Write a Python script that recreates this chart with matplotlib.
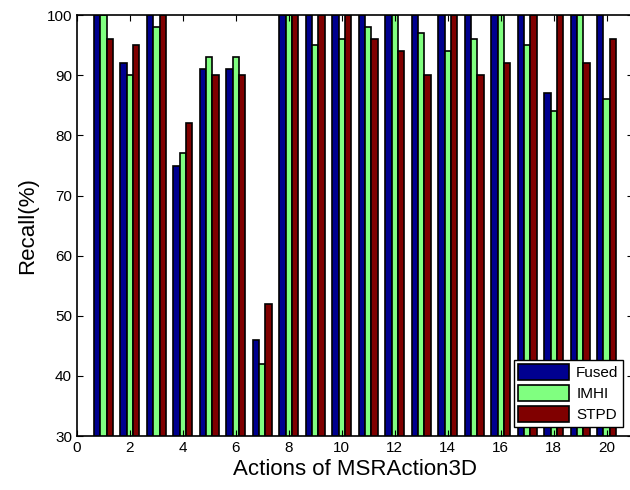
import numpy as np
import matplotlib
matplotlib.use("Agg")
import matplotlib.pyplot as plt

plt.rcParams['font.family'] = ['Liberation Sans', 'DejaVu Sans']

actions = np.arange(1, 21)
fused = [100, 92, 100, 75, 91, 91, 46, 100, 100, 100,
         100, 100, 100, 100, 100, 100, 100, 87, 100, 100]
imhi = [100, 90, 98, 77, 93, 93, 42, 100, 95, 96,
        98, 100, 97, 94, 96, 100, 95, 84, 100, 86]
stpd = [96, 95, 100, 82, 90, 90, 52, 100, 100, 100,
        96, 94, 90, 100, 90, 92, 100, 100, 92, 96]

fig = plt.figure(figsize=(6.3, 4.9), dpi=100)
ax = fig.add_axes([0.122, 0.110, 0.883, 0.859])

w = 0.24
ax.bar(actions - w, fused, w, color='#00008F', edgecolor='black', linewidth=1.2, label='Fused')
ax.bar(actions, imhi, w, color='#80FF80', edgecolor='black', linewidth=1.2, label='IMHI')
ax.bar(actions + w, stpd, w, color='#800000', edgecolor='black', linewidth=1.2, label='STPD')

ax.set_xlim(0, 21)
ax.set_ylim(30, 100)
ax.set_xticks(np.arange(0, 21, 2))
ax.set_yticks(np.arange(30, 101, 10))
ax.tick_params(direction='in', top=True, right=True, labelsize=11, length=4)
for s in ax.spines.values():
    s.set_linewidth(1.2)

ax.set_xlabel('Actions of MSRAction3D', fontsize=16, labelpad=3)
ax.set_ylabel('Recall(%)', fontsize=16, labelpad=6)

leg = ax.legend(loc='lower right', bbox_to_anchor=(0.982, 0.022), fontsize=11,
                fancybox=False, edgecolor='black', framealpha=1,
                handlelength=3.3, handleheight=1.2, borderpad=0.3, labelspacing=0.33,
                handletextpad=0.5, borderaxespad=0)
leg.get_frame().set_linewidth(1.0)

fig.savefig('out.png', dpi=100)
